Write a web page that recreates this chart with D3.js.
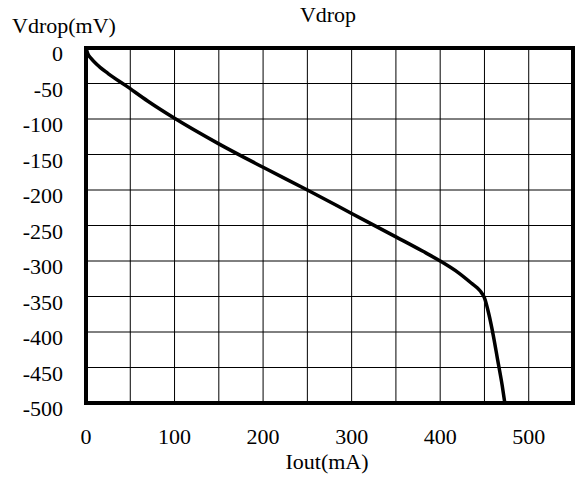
<!DOCTYPE html>
<html><head><meta charset="utf-8">
<script src="https://cdn.jsdelivr.net/npm/d3@7"></script>
</head><body style="margin:0">
<svg id="c" width="576" height="479" font-family="Times New Roman" font-size="22"></svg>
<script>
const currentMA = [0, 2, 6, 12, 25, 45, 70, 100, 150, 200, 250, 300, 350, 380, 400, 420, 435, 445, 450, 455, 460, 465, 470, 473];
const vdropMV   = [0, -8, -15, -23, -36, -53, -75, -99, -135, -168, -200, -233, -266, -286, -300, -316, -331, -342, -352, -375, -405, -440, -475, -500];
const xTicks = [0, 100, 200, 300, 400, 500];
const yTicks = [0, -50, -100, -150, -200, -250, -300, -350, -400, -450, -500];
const xGrid = [50, 100, 150, 200, 250, 300, 350, 400, 450, 500];
const yGrid = [-50, -100, -150, -200, -250, -300, -350, -400, -450];

const svg = d3.select("#c");
const x = d3.scaleLinear().domain([0, 550]).range([86, 573]);
const y = d3.scaleLinear().domain([-500, 0]).range([403, 48]);

svg.append("g").selectAll("line").data(xGrid).join("line")
  .attr("x1", d => x(d)).attr("x2", d => x(d))
  .attr("y1", y(0)).attr("y2", y(-500))
  .attr("stroke", "#000").attr("stroke-width", 1);
svg.append("g").selectAll("line").data(yGrid).join("line")
  .attr("x1", x(0)).attr("x2", x(550))
  .attr("y1", d => y(d)).attr("y2", d => y(d))
  .attr("stroke", "#000").attr("stroke-width", 1);

const data = currentMA.map((c, i) => [c, vdropMV[i]]);
svg.append("path").datum(data)
  .attr("fill", "none").attr("stroke", "#000").attr("stroke-width", 3.5)
  .attr("stroke-linejoin", "round")
  .attr("d", d3.line().x(d => x(d[0])).y(d => y(d[1])).curve(d3.curveMonotoneX));

svg.append("rect")
  .attr("x", x(0)).attr("y", y(0))
  .attr("width", x(550) - x(0)).attr("height", y(-500) - y(0))
  .attr("fill", "none").attr("stroke", "#000").attr("stroke-width", 4);

const labels = svg.append("g").attr("font-family", "Times New Roman").attr("font-size", 22);
labels.selectAll("text.xt").data(xTicks).join("text").attr("class", "xt")
  .attr("x", d => x(d)).attr("y", 444).attr("text-anchor", "middle")
  .text(d => d);
labels.selectAll("text.yt").data(yTicks).join("text").attr("class", "yt")
  .attr("x", 63).attr("y", d => y(d) + 13).attr("text-anchor", "end")
  .text(d => d);
labels.append("text").attr("x", 12).attr("y", 33).text("Vdrop(mV)");
labels.append("text").attr("x", 328).attr("y", 22).attr("text-anchor", "middle").text("Vdrop");
labels.append("text").attr("x", 327).attr("y", 469).attr("text-anchor", "middle").text("Iout(mA)");
</script>
</body></html>
